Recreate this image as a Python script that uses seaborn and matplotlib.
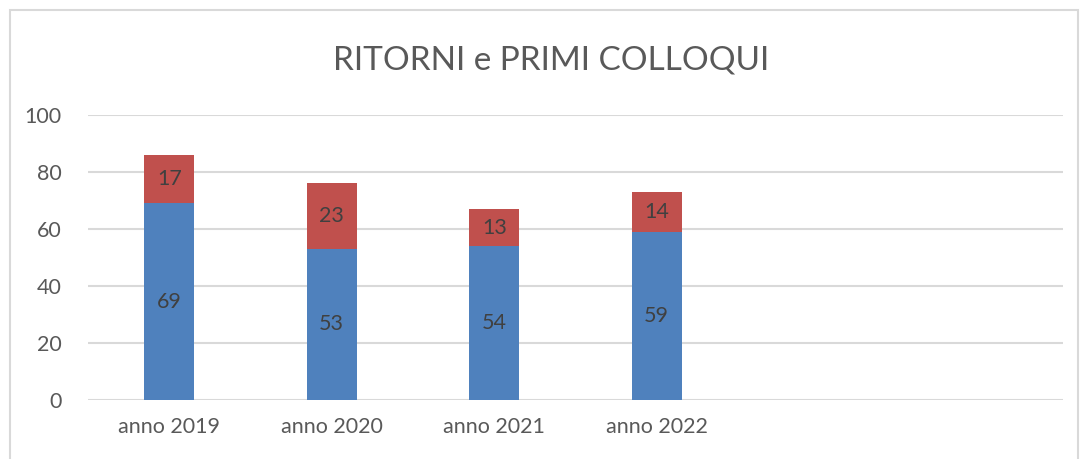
import pandas as pd
import seaborn as sns
import matplotlib.pyplot as plt
from matplotlib.patches import Rectangle

# values
years = ["anno 2019", "anno 2020", "anno 2021", "anno 2022"]
ritorni = [69, 53, 54, 59]
primi_colloqui = [17, 23, 13, 14]
yticks = [0, 20, 40, 60, 80, 100]

blue = "#4F81BD"
red = "#C0504D"

df = pd.DataFrame({"anno": years, "ritorni": ritorni, "primi": primi_colloqui})
df["totale"] = df["ritorni"] + df["primi"]

sns.set_style("white")
plt.rcParams["font.family"] = ["Lato", "DejaVu Sans"]

fig = plt.figure(figsize=(10.81, 4.59), dpi=100)
ax = fig.add_axes([88 / 1081, 59 / 459, 975 / 1081, 285 / 459])

# stacked bars: totals in red, ritorni in blue on top
sns.barplot(data=df, x="anno", y="totale", color=red, width=0.31,
            saturation=1, linewidth=0, ax=ax, zorder=3)
sns.barplot(data=df, x="anno", y="ritorni", color=blue, width=0.31,
            saturation=1, linewidth=0, ax=ax, zorder=4)

for i, row in df.iterrows():
    ax.text(i, row["ritorni"] / 2, str(row["ritorni"]), ha="center", va="center",
            fontsize=15.5, color="#404040", zorder=5)
    ax.text(i, row["ritorni"] + row["primi"] / 2, str(row["primi"]), ha="center",
            va="center", fontsize=15.5, color="#404040", zorder=5)

ax.set_xlim(-0.5, 5.5)
ax.set_ylim(0, 100)
ax.set_yticks(yticks)
ax.yaxis.grid(True, color="#D9D9D9", linewidth=1.5, zorder=0)
ax.set_axisbelow(True)
for s in ax.spines.values():
    s.set_visible(False)
ax.tick_params(axis="both", length=0, labelsize=15.5, labelcolor="#595959")
ax.tick_params(axis="y", pad=19)
ax.tick_params(axis="x", pad=12)
ax.set_xlabel("")
ax.set_ylabel("")

fig.text(0.51, 0.868, "RITORNI e PRIMI COLLOQUI", ha="center", va="center",
         fontsize=24, color="#595959")

# chart frame
fig.patches.append(Rectangle((10 / 1081, -0.05), 1068 / 1081, 1 - 10 / 459 + 0.05,
                             transform=fig.transFigure, fill=False,
                             edgecolor="#D9D9D9", linewidth=1.5))

plt.savefig("out.png", dpi=100)
